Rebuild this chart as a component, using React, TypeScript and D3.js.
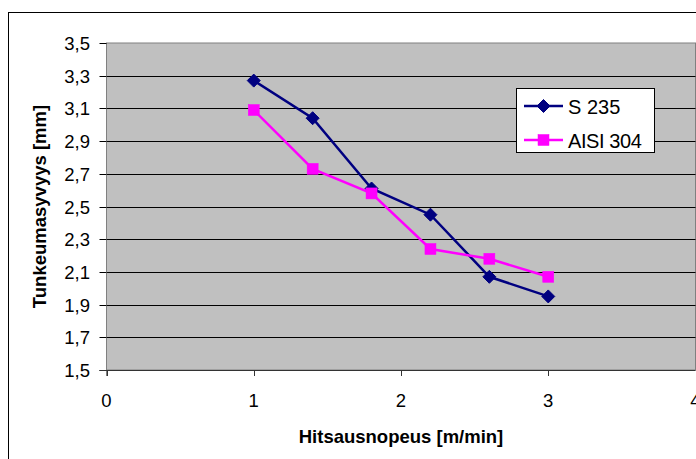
import React, { useEffect, useRef } from "react";
import * as d3 from "d3";

// Welding speed (m/min) and penetration depth (mm)
const speeds = [1, 1.4, 1.8, 2.2, 2.6, 3];
const s235 = [3.27, 3.04, 2.61, 2.45, 2.07, 1.95];
const aisi304 = [3.09, 2.73, 2.58, 2.24, 2.18, 2.07];
const seriesNames = ["S 235", "AISI 304"];
const seriesColors = ["#000080", "#FF00FF"];
const xTicks = [0, 1, 2, 3, 4];
const yTicks = [1.5, 1.7, 1.9, 2.1, 2.3, 2.5, 2.7, 2.9, 3.1, 3.3, 3.5];
const xTitle = "Hitsausnopeus [m/min]";
const yTitle = "Tunkeumasyvyys [mm]";

const W = 696;
const H = 459;
const FONT = "'Liberation Sans', Arial, sans-serif";

export default function App() {
  const ref = useRef<SVGSVGElement>(null);

  useEffect(() => {
    const svg = d3.select(ref.current);
    svg.selectAll("*").remove();

    const left = 106.5;
    const right = 695.5;
    const top = 43;
    const bottom = 370;

    const x = d3.scaleLinear().domain([0, 4]).range([left, right]);
    const y = d3.scaleLinear().domain([1.5, 3.5]).range([bottom, top]);

    // chart frame
    svg
      .append("rect")
      .attr("x", 8.5)
      .attr("y", 12.5)
      .attr("width", 720)
      .attr("height", 480)
      .attr("fill", "#fff")
      .attr("stroke", "#000")
      .attr("stroke-width", 1);

    // plot area
    svg
      .append("rect")
      .attr("x", left)
      .attr("y", top)
      .attr("width", right - left)
      .attr("height", bottom - top)
      .attr("fill", "#C0C0C0")
      .attr("stroke", "#808080")
      .attr("stroke-width", 1);

    // horizontal gridlines
    svg
      .append("g")
      .selectAll("line")
      .data(yTicks.filter((t) => t > 1.5 && t < 3.5))
      .join("line")
      .attr("x1", left)
      .attr("x2", right)
      .attr("y1", (d) => Math.round(y(d)) + 0.5)
      .attr("y2", (d) => Math.round(y(d)) + 0.5)
      .attr("stroke", "#000")
      .attr("stroke-width", 1);

    // y axis
    const yAxis = svg.append("g");
    yAxis
      .append("line")
      .attr("x1", left)
      .attr("x2", left)
      .attr("y1", top)
      .attr("y2", bottom + 6)
      .attr("stroke", "#808080");
    yAxis
      .selectAll("line.tick")
      .data(yTicks)
      .join("line")
      .attr("class", "tick")
      .attr("x1", left - 7)
      .attr("x2", left)
      .attr("y1", (d) => Math.round(y(d)) + 0.5)
      .attr("y2", (d) => Math.round(y(d)) + 0.5)
      .attr("stroke", "#000");
    yAxis
      .selectAll("text")
      .data(yTicks)
      .join("text")
      .attr("x", 90)
      .attr("y", (d) => y(d) + 7)
      .attr("text-anchor", "end")
      .attr("font-family", FONT)
      .attr("font-size", 18.5)
      .attr("fill", "#000")
      .text((d) => d3.format(".1f")(d).replace(".", ","));

    // x axis
    const xAxis = svg.append("g");
    xAxis
      .append("line")
      .attr("x1", left - 7)
      .attr("x2", right)
      .attr("y1", bottom + 0.5)
      .attr("y2", bottom + 0.5)
      .attr("stroke", "#333");
    xAxis
      .selectAll("line.tick")
      .data(xTicks)
      .join("line")
      .attr("class", "tick")
      .attr("x1", (d) => Math.round(x(d)) + 0.5)
      .attr("x2", (d) => Math.round(x(d)) + 0.5)
      .attr("y1", bottom)
      .attr("y2", bottom + 6)
      .attr("stroke", "#333");
    xAxis
      .selectAll("text")
      .data(xTicks)
      .join("text")
      .attr("x", (d) => x(d))
      .attr("y", 407)
      .attr("text-anchor", "middle")
      .attr("font-family", FONT)
      .attr("font-size", 18.5)
      .attr("fill", "#000")
      .text((d) => String(d));

    // axis titles
    svg
      .append("text")
      .attr("x", 401)
      .attr("y", 443)
      .attr("text-anchor", "middle")
      .attr("font-family", FONT)
      .attr("font-weight", "bold")
      .attr("font-size", 18.5)
      .text(xTitle);
    svg
      .append("text")
      .attr("transform", `translate(46,${(top + bottom) / 2}) rotate(-90)`)
      .attr("text-anchor", "middle")
      .attr("font-family", FONT)
      .attr("font-weight", "bold")
      .attr("font-size", 18.5)
      .text(yTitle);

    const line = d3
      .line<number>()
      .x((_, i) => x(speeds[i]))
      .y((d) => y(d));

    const diamond = (g: any, cx: number, cy: number, color: string) =>
      g
        .append("path")
        .attr("d", `M${cx},${cy - 6.5}L${cx + 6.5},${cy}L${cx},${cy + 6.5}L${cx - 6.5},${cy}Z`)
        .attr("fill", color)
        .attr("stroke", color)
        .attr("stroke-width", 1);
    const square = (g: any, cx: number, cy: number, color: string) =>
      g
        .append("rect")
        .attr("x", cx - 5.5)
        .attr("y", cy - 5.5)
        .attr("width", 11)
        .attr("height", 11)
        .attr("fill", color)
        .attr("stroke", color)
        .attr("stroke-width", 0.5);

    const plot = svg.append("g");
    // S 235 series
    plot
      .append("path")
      .attr("d", line(s235))
      .attr("fill", "none")
      .attr("stroke", seriesColors[0])
      .attr("stroke-width", 2.5);
    s235.forEach((v, i) => diamond(plot, x(speeds[i]), y(v), seriesColors[0]));

    // AISI 304 series
    plot
      .append("path")
      .attr("d", line(aisi304))
      .attr("fill", "none")
      .attr("stroke", seriesColors[1])
      .attr("stroke-width", 2.5);
    aisi304.forEach((v, i) => square(plot, x(speeds[i]), y(v), seriesColors[1]));

    // legend
    const lg = svg.append("g");
    lg.append("rect")
      .attr("x", 516.5)
      .attr("y", 88.5)
      .attr("width", 138)
      .attr("height", 64)
      .attr("fill", "#fff")
      .attr("stroke", "#000")
      .attr("stroke-width", 1);
    const rows = [106, 140];
    seriesNames.forEach((name, i) => {
      lg.append("line")
        .attr("x1", 524)
        .attr("x2", 563)
        .attr("y1", rows[i])
        .attr("y2", rows[i])
        .attr("stroke", seriesColors[i])
        .attr("stroke-width", 2.5);
      if (i === 0) diamond(lg, 543.5, rows[i], seriesColors[i]);
      else square(lg, 543.5, rows[i], seriesColors[i]);
      lg.append("text")
        .attr("x", 568)
        .attr("y", rows[i] + 7.5)
        .attr("font-family", FONT)
        .attr("font-size", 20)
        .attr("letter-spacing", i === 1 ? -0.4 : 0)
        .attr("fill", "#000")
        .text(name);
    });
  }, []);

  return (
    <svg
      ref={ref}
      width={W}
      height={H}
      style={{ position: "absolute", left: 0, top: 0, background: "#fff" }}
    />
  );
}
